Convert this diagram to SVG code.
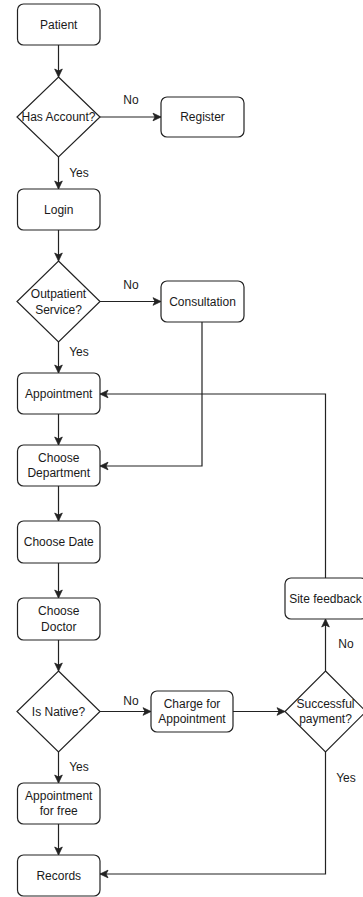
<svg xmlns="http://www.w3.org/2000/svg" width="363" height="897" viewBox="0 0 363 897">
<style>
.n{fill:#fff;stroke:#222;stroke-width:1.2}
.t{font-family:"Liberation Sans",Arial,Helvetica,sans-serif;font-size:12px;fill:#1a1a1a;text-anchor:middle}
.e{fill:none;stroke:#222;stroke-width:1.2;marker-end:url(#a)}
</style>
<defs>
<marker id="a" markerUnits="userSpaceOnUse" markerWidth="10" markerHeight="10" viewBox="0 0 10 10" refX="9" refY="5" orient="auto">
<path d="M1,1.2 L9,5 L1,8.8 L3,5 Z" fill="#222" stroke="#222" stroke-width="0.8"/>
</marker>
</defs>
<rect width="363" height="897" fill="#fff"/>
<g id="edges">
<path class="e" d="M58.5,45 V77"/>
<path class="e" d="M100,117 H161"/>
<path class="e" d="M58.5,157 V189"/>
<path class="e" d="M58.5,230 V261"/>
<path class="e" d="M100,301.5 H161"/>
<path class="e" d="M58.5,342 V373"/>
<path class="e" d="M58.5,414 V445"/>
<path class="e" d="M202,322 V466 H100"/>
<path class="e" d="M58.5,486 V521"/>
<path class="e" d="M58.5,563 V598"/>
<path class="e" d="M58.5,640 V671"/>
<path class="e" d="M100,711.5 H151"/>
<path class="e" d="M233,711.5 H285"/>
<path class="e" d="M325.5,671 V619"/>
<path class="e" d="M325.5,578 V394 H100"/>
<path class="e" d="M58.5,752 V783"/>
<path class="e" d="M58.5,824 V855"/>
<path class="e" d="M325.5,752 V874 H100"/>
<text class="t" x="131" y="104">No</text>
<text class="t" x="79" y="177">Yes</text>
<text class="t" x="131" y="289">No</text>
<text class="t" x="79" y="356">Yes</text>
<text class="t" x="131" y="705">No</text>
<text class="t" x="79" y="771">Yes</text>
<text class="t" x="346" y="648">No</text>
<text class="t" x="346" y="782">Yes</text>
</g>
<g id="patient"><rect class="n" x="17.5" y="4" width="82.5" height="41" rx="6"/><text class="t" x="58.75" y="28.8">Patient</text></g>
<g id="hasAccount"><path class="n" d="M58.5,77 L100,117 L58.5,157 L17,117 Z"/><text class="t" x="58.5" y="121.3">Has Account?</text></g>
<g id="register"><rect class="n" x="161" y="97" width="83" height="40" rx="6"/><text class="t" x="202.5" y="121.3">Register</text></g>
<g id="login"><rect class="n" x="17.5" y="189" width="82.5" height="41" rx="6"/><text class="t" x="58.75" y="213.8">Login</text></g>
<g id="outpatient"><path class="n" d="M58.5,261 L100,301.5 L58.5,342 L17,301.5 Z"/><text class="t" x="58.5" y="297.8">Outpatient</text><text class="t" x="58.5" y="313.8">Service?</text></g>
<g id="consultation"><rect class="n" x="161" y="281" width="83" height="41" rx="6"/><text class="t" x="202.5" y="305.8">Consultation</text></g>
<g id="appointment"><rect class="n" x="17.5" y="373" width="82.5" height="41" rx="6"/><text class="t" x="58.75" y="397.8">Appointment</text></g>
<g id="chooseDepartment"><rect class="n" x="17.5" y="445" width="82.5" height="41" rx="6"/><text class="t" x="58.75" y="461.8">Choose</text><text class="t" x="58.75" y="477.3">Department</text></g>
<g id="chooseDate"><rect class="n" x="17.5" y="521" width="82.5" height="42" rx="6"/><text class="t" x="58.75" y="546.3">Choose Date</text></g>
<g id="chooseDoctor"><rect class="n" x="17.5" y="598" width="82.5" height="42" rx="6"/><text class="t" x="58.75" y="615.3">Choose</text><text class="t" x="58.75" y="631.3">Doctor</text></g>
<g id="isNative"><path class="n" d="M58.5,671 L100,711.5 L58.5,752 L17,711.5 Z"/><text class="t" x="58.5" y="715.8">Is Native?</text></g>
<g id="charge"><rect class="n" x="151" y="691" width="82" height="41" rx="6"/><text class="t" x="192" y="708.3">Charge for</text><text class="t" x="192" y="723.3">Appointment</text></g>
<g id="successful"><path class="n" d="M325.5,671 L366,711.5 L325.5,752 L285,711.5 Z"/><text class="t" x="325.5" y="708.3">Successful</text><text class="t" x="325.5" y="723.3">payment?</text></g>
<g id="siteFeedback"><rect class="n" x="285" y="578" width="82" height="41" rx="6"/><text class="t" x="325.5" y="602.8">Site feedback</text></g>
<g id="appointmentFree"><rect class="n" x="17.5" y="783" width="82.5" height="41" rx="6"/><text class="t" x="58.75" y="800.3">Appointment</text><text class="t" x="58.75" y="815.3">for free</text></g>
<g id="records"><rect class="n" x="17.5" y="855" width="82.5" height="41" rx="6"/><text class="t" x="58.75" y="879.8">Records</text></g>
</svg>
